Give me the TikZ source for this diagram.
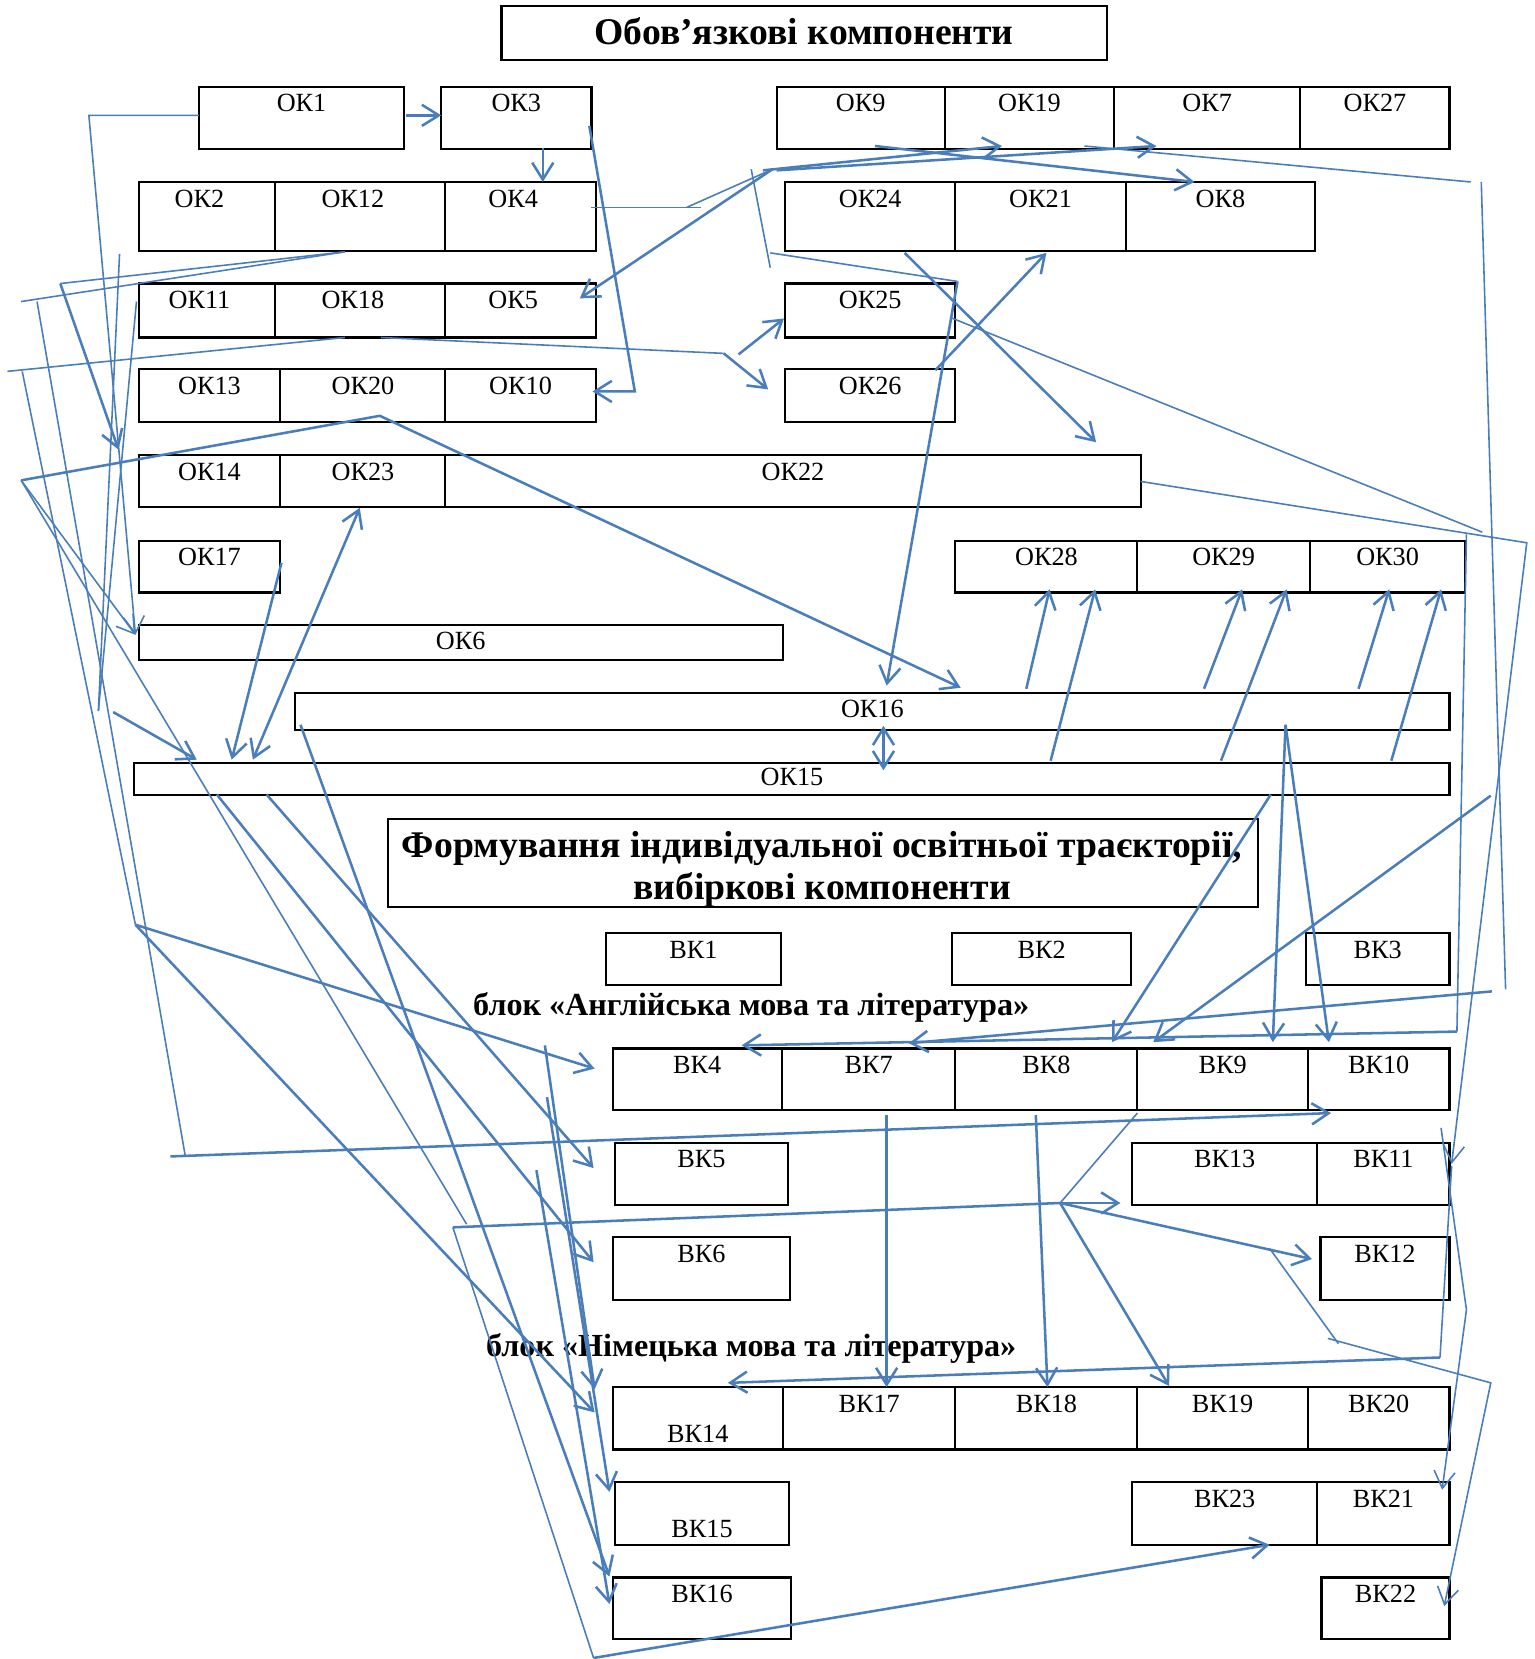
\documentclass[tikz,border=0pt]{standalone}
\usepackage{fontspec}
\setmainfont{Liberation Serif}
\usetikzlibrary{arrows.meta}
\definecolor{lineblue}{RGB}{74,126,187}
\newcommand{\lblfont}{\fontsize{12.4}{14}\selectfont}
\newcommand{\ttlfont}{\fontsize{17.8}{20}\selectfont\bfseries}
\newcommand{\blkfont}{\fontsize{15.2}{17}\selectfont\bfseries}
\tikzset{>={Straight Barb[length=8pt,width=10pt]}}
\tikzset{
  cell/.style={draw, line width=1pt, inner sep=0pt, outer sep=0pt},
  lbl/.style={inner sep=0pt, font=\lblfont},
  con/.style={lineblue, line width=1.2pt},
  conthin/.style={lineblue, line width=0.75pt}
}
% box with the label at the top (optional x shift of the label)
\newcommand{\kbox}[7][0]{%
  \node[cell, anchor=north west, minimum width={(#5-#3)*0.5pt}, minimum height={(#6-#4)*0.5pt}] (#2) at (#3,#4) {};
  \node[lbl, anchor=north] at ([xshift=#1*0.5pt, yshift=-3.5pt]#2.north) {#7};}
% box with the label at the bottom
\newcommand{\kboxb}[6]{%
  \node[cell, anchor=north west, minimum width={(#4-#2)*0.5pt}, minimum height={(#5-#3)*0.5pt}] (#1) at (#2,#3) {};
  \node[lbl, anchor=base] at ([yshift=3.5pt]#1.south) {#6};}
% box with the label in the middle
\newcommand{\kboxc}[6]{%
  \node[cell, anchor=north west, minimum width={(#4-#2)*0.5pt}, minimum height={(#5-#3)*0.5pt}] (#1) at (#2,#3) {};
  \node[lbl] at ([yshift=1pt]#1.center) {#6};}

\begin{document}
\begin{tikzpicture}[x=0.5pt, y=-0.5pt]
\useasboundingbox (0,0) rectangle (1450,1568);

% --- Titles ---
\node[cell, anchor=north west, minimum width=286pt, minimum height=25.5pt] (ttlA) at (474,6) {};
\node[font=\ttlfont, inner sep=0pt, anchor=base] at (760,42) {Обов’язкові компоненти};
\node[cell, anchor=north west, minimum width=411pt, minimum height=41.5pt] (ttlB) at (367,774) {};
\node[font=\ttlfont, inner sep=0pt, anchor=base] at (777,810) {Формування індивідуальної освітньої траєкторії,};
\node[font=\ttlfont, inner sep=0pt, anchor=base] at (777,850) {вибіркові компоненти};
\node[font=\blkfont, inner sep=0pt, anchor=base] (blkA) at (710,960) {блок «Англійська мова та література»};
\node[font=\blkfont, inner sep=0pt, anchor=base] (blkB) at (710,1282) {блок «Німецька мова та література»};

% --- Mandatory components ---
\kbox{ok1}{188}{82}{382}{141}{ОК1}
\kbox{ok3}{417}{82}{559}{141}{ОК3}
\kbox{ok9}{734}{82}{893}{141}{ОК9}
\kbox{ok19}{893}{82}{1053}{141}{ОК19}
\kbox{ok7}{1053}{82}{1229}{141}{ОК7}
\kbox{ok27}{1229}{82}{1370}{141}{ОК27}

\kbox[-7]{ok2}{131}{172}{260}{237}{ОК2}
\kbox[-7]{ok12}{260}{172}{421}{237}{ОК12}
\kbox[-7]{ok4}{421}{172}{563}{237}{ОК4}
\kbox{ok24}{742}{172}{903}{237}{ОК24}
\kbox{ok21}{903}{172}{1064}{237}{ОК21}
\kbox{ok8}{1064}{172}{1243}{237}{ОК8}

\kbox[-7]{ok11}{131}{268}{260}{319}{ОК11}
\kbox[-7]{ok18}{260}{268}{421}{319}{ОК18}
\kbox[-7]{ok5}{421}{268}{563}{319}{ОК5}
\kbox{ok25}{742}{268}{903}{319}{ОК25}

\kbox{ok13}{131}{349}{265}{399}{ОК13}
\kbox{ok20}{265}{349}{421}{399}{ОК20}
\kbox{ok10}{421}{349}{563}{399}{ОК10}
\kbox{ok26}{742}{349}{903}{399}{ОК26}

\kbox{ok14}{131}{430}{265}{479}{ОК14}
\kbox{ok23}{265}{430}{421}{479}{ОК23}
\kbox{ok22}{421}{430}{1078}{479}{ОК22}

\kbox{ok17}{131}{511}{265}{560}{ОК17}
\kbox{ok28}{903}{511}{1075}{560}{ОК28}
\kbox{ok29}{1075}{511}{1238}{560}{ОК29}
\kbox{ok30}{1238}{511}{1385}{560}{ОК30}

\kboxc{ok6}{131}{591}{740}{624}{ОК6}
\kboxc{ok16}{279}{655}{1370}{690}{ОК16}
\kboxc{ok15}{127}{721}{1370}{751}{ОК15}

% --- Elective components ---
\kbox{vk1}{573}{882}{738}{931}{ВК1}
\kbox{vk2}{900}{882}{1069}{931}{ВК2}
\kbox{vk3}{1234}{882}{1370}{931}{ВК3}

\kbox{vk4}{579}{991}{739}{1049}{ВК4}
\kbox{vk7}{739}{991}{903}{1049}{ВК7}
\kbox{vk8}{903}{991}{1075}{1049}{ВК8}
\kbox{vk9}{1075}{991}{1236}{1049}{ВК9}
\kbox{vk10}{1236}{991}{1370}{1049}{ВК10}
\kbox{vk5}{581}{1080}{745}{1139}{ВК5}
\kbox{vk13}{1070}{1080}{1245}{1139}{ВК13}
\kbox{vk11}{1245}{1080}{1370}{1139}{ВК11}
\kbox{vk6}{579}{1169}{747}{1229}{ВК6}
\kbox{vk12}{1248}{1169}{1370}{1229}{ВК12}

\kboxb{vk14}{579}{1311}{740}{1370}{ВК14}
\kbox{vk17}{740}{1311}{903}{1370}{ВК17}
\kbox{vk18}{903}{1311}{1075}{1370}{ВК18}
\kbox{vk19}{1075}{1311}{1236}{1370}{ВК19}
\kbox{vk20}{1236}{1311}{1370}{1370}{ВК20}
\kboxb{vk15}{581}{1401}{746}{1460}{ВК15}
\kbox{vk23}{1070}{1401}{1245}{1460}{ВК23}
\kbox{vk21}{1245}{1401}{1370}{1460}{ВК21}
\kbox{vk16}{579}{1491}{748}{1549}{ВК16}
\kbox{vk22}{1249}{1491}{1370}{1549}{ВК22}

% --- Connectors, upper part ---
\draw[con,->] (384,109) -- (417,109);
\draw[con,->] (513,140) -- (513,172);
\draw[con,->] (557,119) -- (600,370) -- (560,370);
\draw[conthin] (559,196) -- (663,196);
\draw[conthin] (649,196) -- (730,160);
\coordinate (fan) at (730,160);
\draw[con,->] (fan) -- (548,282);
\draw[con,->] (721,161) -- (947,138);
\draw[con,->] (734,161) -- (1093,138);
\draw[con,->] (827,138) -- (1129,172);
\draw[conthin] (710,160) -- (728,253);
\draw[conthin] (728,239) -- (905,266);
\draw[con,->] (905,266) -- (838,648);
\draw[con,->] (855,239) -- (1036,418);
\draw[con,->] (884,350) -- (989,239);
\draw[conthin] (360,319) -- (684,334);
\draw[con,->] (684,334) -- (726,368);
\draw[con,->] (698,335) -- (741,301);

% --- Connectors, left side ---
\draw[conthin,->] (188,109) -- (84,109) -- (128,600);
\draw[conthin] (326,238) -- (57,268);
\draw[con,->] (57,268) -- (112,425);
\draw[conthin] (326,238) -- (20,285);
\draw[conthin] (326,319) -- (7,351);
\draw[conthin] (113,240) -- (93,672);
\draw[conthin] (129,285) -- (93,672);
\coordinate (lk) at (20,454);
\draw[con,->] (lk) -- (359,393) -- (908,650);
\draw[conthin,->] (lk) -- (128,600);
\draw[conthin] (lk) -- (441,1157);
\draw[con,->] (107,673) -- (186,718);
\draw[con,->] (266,532) -- (219,718);
\draw[con,<->] (340,480) -- (239,718);
\coordinate (gk) at (128,874);
\draw[conthin] (21,351) -- (gk);
\draw[con,->] (gk) -- (562,1010);
\draw[con,->] (gk) -- (562,1335);
\draw[conthin] (35,285) -- (175,1092);
\draw[con,->] (161,1093) -- (1258,1052);
\draw[con,->] (284,685) -- (576,1490);
\draw[con,->] (205,751) -- (561,1193);
\draw[con,->] (252,751) -- (561,1104);
\draw[con,->] (515,988) -- (562,1313);
\draw[con,->] (517,1037) -- (576,1410);
\draw[con,->] (507,1106) -- (576,1516);

% --- Hub between ВК9 and ВК12 ---
\coordinate (hub) at (1002,1137);
\draw[conthin] (1075,1052) -- (hub);
\draw[con,->] (hub) -- (1059,1137);
\draw[con,->] (hub) -- (1240,1190);
\draw[con,->] (hub) -- (1105,1310);
\draw[con] (hub) -- (428,1160);
\draw[conthin] (428,1160) -- (561,1567);
\draw[con,->] (561,1567) -- (1200,1460);
\draw[con,->] (838,1054) -- (838,1311);
\draw[con,->] (979,1054) -- (990,1311);

% --- ОК16, ОК15 and the last rows ---
\foreach \a/\b/\c/\d in {970/651/992/557, 993/719/1035/557, 1138/651/1174/557,
                         1154/719/1216/557, 1284/651/1313/557, 1315/719/1362/557}
  \draw[con,->] (\a,\b) -- (\c,\d);
\draw[con,<->] (835,686) -- (835,728);
\draw[con,->] (1215,685) -- (1203,985);
\draw[con,->] (1215,685) -- (1256,985);
\draw[con,->] (1201,751) -- (1051,985);
\draw[con,->] (1409,752) -- (1090,985);

% --- Connectors, right side ---
\draw[conthin] (1025,138) -- (1390,172);
\draw[conthin] (1400,172) -- (1423,935);
\draw[con,->] (1410,937) -- (859,986);
\draw[conthin] (898,300) -- (1401,503);
\draw[conthin] (1386,505) -- (1377,975);
\draw[con,->] (1377,975) -- (701,988);
\draw[conthin,->] (1078,455) -- (1443,513) -- (1372,1100);
\draw[conthin] (1372,1102) -- (1361,1283);
\draw[con,->] (1361,1283) -- (688,1307);
\draw[conthin,->] (1362,1066) -- (1386,1238) -- (1363,1408);
\draw[conthin] (1200,1180) -- (1265,1270);
\draw[conthin,->] (1255,1265) -- (1409,1307) -- (1365,1518);

\end{tikzpicture}
\end{document}
